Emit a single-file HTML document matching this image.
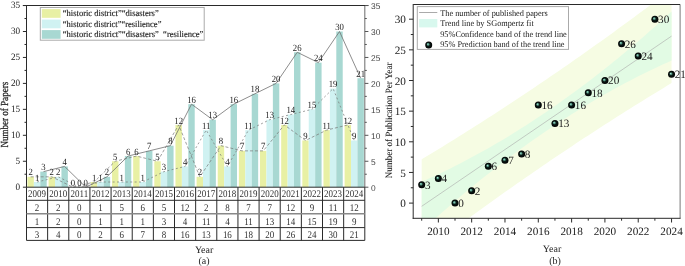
<!DOCTYPE html>
<html><head><meta charset="utf-8"><style>
html,body{margin:0;padding:0;background:#fff;width:685px;height:266px;overflow:hidden;position:relative}
svg text{font-family:"Liberation Serif",serif;text-rendering:geometricPrecision}
svg{transform:translateZ(0)}
</style></head><body>
<svg width="685" height="266" viewBox="0 0 685 266" style="position:absolute;left:0;top:0">
<rect x="27.45" y="176.82" width="6.42" height="10.38" fill="#e8f0a4"/>
<rect x="33.87" y="182.01" width="6.42" height="5.19" fill="#d0f2f2"/>
<rect x="40.29" y="171.63" width="6.42" height="15.57" fill="#a8d8d2"/>
<rect x="48.59" y="176.82" width="6.42" height="10.38" fill="#e8f0a4"/>
<rect x="55.01" y="176.82" width="6.42" height="10.38" fill="#d0f2f2"/>
<rect x="61.43" y="166.44" width="6.42" height="20.76" fill="#a8d8d2"/>
<rect x="90.88" y="182.01" width="6.42" height="5.19" fill="#e8f0a4"/>
<rect x="97.30" y="182.01" width="6.42" height="5.19" fill="#d0f2f2"/>
<rect x="103.72" y="176.82" width="6.42" height="10.38" fill="#a8d8d2"/>
<rect x="112.03" y="161.25" width="6.42" height="25.95" fill="#e8f0a4"/>
<rect x="118.45" y="182.01" width="6.42" height="5.19" fill="#d0f2f2"/>
<rect x="124.87" y="156.06" width="6.42" height="31.14" fill="#a8d8d2"/>
<rect x="133.17" y="156.06" width="6.42" height="31.14" fill="#e8f0a4"/>
<rect x="139.59" y="182.01" width="6.42" height="5.19" fill="#d0f2f2"/>
<rect x="146.01" y="150.87" width="6.42" height="36.33" fill="#a8d8d2"/>
<rect x="154.31" y="161.25" width="6.42" height="25.95" fill="#e8f0a4"/>
<rect x="160.73" y="171.63" width="6.42" height="15.57" fill="#d0f2f2"/>
<rect x="167.15" y="145.68" width="6.42" height="41.52" fill="#a8d8d2"/>
<rect x="175.46" y="124.92" width="6.42" height="62.28" fill="#e8f0a4"/>
<rect x="181.88" y="166.44" width="6.42" height="20.76" fill="#d0f2f2"/>
<rect x="188.30" y="104.16" width="6.42" height="83.04" fill="#a8d8d2"/>
<rect x="196.60" y="176.82" width="6.42" height="10.38" fill="#e8f0a4"/>
<rect x="203.02" y="130.11" width="6.42" height="57.09" fill="#d0f2f2"/>
<rect x="209.44" y="119.73" width="6.42" height="67.47" fill="#a8d8d2"/>
<rect x="217.74" y="145.68" width="6.42" height="41.52" fill="#e8f0a4"/>
<rect x="224.16" y="166.44" width="6.42" height="20.76" fill="#d0f2f2"/>
<rect x="230.58" y="104.16" width="6.42" height="83.04" fill="#a8d8d2"/>
<rect x="238.89" y="150.87" width="6.42" height="36.33" fill="#e8f0a4"/>
<rect x="245.31" y="130.11" width="6.42" height="57.09" fill="#d0f2f2"/>
<rect x="251.73" y="93.78" width="6.42" height="93.42" fill="#a8d8d2"/>
<rect x="260.03" y="150.87" width="6.42" height="36.33" fill="#e8f0a4"/>
<rect x="266.45" y="119.73" width="6.42" height="67.47" fill="#d0f2f2"/>
<rect x="272.87" y="83.40" width="6.42" height="103.80" fill="#a8d8d2"/>
<rect x="281.18" y="124.92" width="6.42" height="62.28" fill="#e8f0a4"/>
<rect x="287.60" y="114.54" width="6.42" height="72.66" fill="#d0f2f2"/>
<rect x="294.01" y="52.26" width="6.42" height="134.94" fill="#a8d8d2"/>
<rect x="302.32" y="140.49" width="6.42" height="46.71" fill="#e8f0a4"/>
<rect x="308.74" y="109.35" width="6.42" height="77.85" fill="#d0f2f2"/>
<rect x="315.16" y="62.64" width="6.42" height="124.56" fill="#a8d8d2"/>
<rect x="323.46" y="130.11" width="6.42" height="57.09" fill="#e8f0a4"/>
<rect x="329.88" y="88.59" width="6.42" height="98.61" fill="#d0f2f2"/>
<rect x="336.30" y="31.50" width="6.42" height="155.70" fill="#a8d8d2"/>
<rect x="344.61" y="124.92" width="6.42" height="62.28" fill="#e8f0a4"/>
<rect x="351.03" y="140.49" width="6.42" height="46.71" fill="#d0f2f2"/>
<rect x="357.45" y="78.21" width="6.42" height="108.99" fill="#a8d8d2"/>
<polyline points="43.50,171.63 64.64,166.44 85.79,187.20 106.93,176.82 128.08,156.06 149.22,150.87 170.36,145.68 191.51,104.16 212.65,119.73 233.79,104.16 254.94,93.78 276.08,83.40 297.23,52.26 318.37,62.64 339.51,31.50 360.66,78.21" fill="none" stroke="#707070" stroke-width="0.8"/>
<polyline points="30.66,176.82 51.80,176.82 72.95,187.20 94.09,182.01 115.23,161.25 136.38,156.06 157.52,161.25 178.67,124.92 199.81,176.82 220.95,145.68 242.10,150.87 263.24,150.87 284.38,124.92 305.53,140.49 326.67,130.11 347.82,124.92" fill="none" stroke="#777" stroke-width="0.7" stroke-dasharray="3,2"/>
<polyline points="37.08,182.01 58.22,176.82 79.37,187.20 100.51,182.01 121.66,182.01 142.80,182.01 163.94,171.63 185.09,166.44 206.23,130.11 227.37,166.44 248.52,130.11 269.66,119.73 290.81,114.54 311.95,109.35 333.09,88.59 354.24,140.49" fill="none" stroke="#777" stroke-width="0.7" stroke-dasharray="2,2.4"/>
<text transform="translate(30.66,175.42) scale(0.92,1)" font-size="9.5" text-anchor="middle" fill="#222">2</text>
<text transform="translate(37.08,180.61) scale(0.92,1)" font-size="9.5" text-anchor="middle" fill="#222">1</text>
<text transform="translate(43.50,170.23) scale(0.92,1)" font-size="9.5" text-anchor="middle" fill="#222">3</text>
<text transform="translate(51.80,175.42) scale(0.92,1)" font-size="9.5" text-anchor="middle" fill="#222">2</text>
<text transform="translate(58.22,175.42) scale(0.92,1)" font-size="9.5" text-anchor="middle" fill="#222">2</text>
<text transform="translate(64.64,165.04) scale(0.92,1)" font-size="9.5" text-anchor="middle" fill="#222">4</text>
<text transform="translate(72.95,185.80) scale(0.92,1)" font-size="9.5" text-anchor="middle" fill="#222">0</text>
<text transform="translate(79.37,185.80) scale(0.92,1)" font-size="9.5" text-anchor="middle" fill="#222">0</text>
<text transform="translate(85.79,185.80) scale(0.92,1)" font-size="9.5" text-anchor="middle" fill="#222">0</text>
<text transform="translate(94.09,180.61) scale(0.92,1)" font-size="9.5" text-anchor="middle" fill="#222">1</text>
<text transform="translate(100.51,180.61) scale(0.92,1)" font-size="9.5" text-anchor="middle" fill="#222">1</text>
<text transform="translate(106.93,175.42) scale(0.92,1)" font-size="9.5" text-anchor="middle" fill="#222">2</text>
<text transform="translate(115.23,159.85) scale(0.92,1)" font-size="9.5" text-anchor="middle" fill="#222">5</text>
<text transform="translate(121.66,180.61) scale(0.92,1)" font-size="9.5" text-anchor="middle" fill="#222">1</text>
<text transform="translate(128.08,154.66) scale(0.92,1)" font-size="9.5" text-anchor="middle" fill="#222">6</text>
<text transform="translate(136.38,154.66) scale(0.92,1)" font-size="9.5" text-anchor="middle" fill="#222">6</text>
<text transform="translate(142.80,180.61) scale(0.92,1)" font-size="9.5" text-anchor="middle" fill="#222">1</text>
<text transform="translate(149.22,149.47) scale(0.92,1)" font-size="9.5" text-anchor="middle" fill="#222">7</text>
<text transform="translate(157.52,159.85) scale(0.92,1)" font-size="9.5" text-anchor="middle" fill="#222">5</text>
<text transform="translate(163.94,170.23) scale(0.92,1)" font-size="9.5" text-anchor="middle" fill="#222">3</text>
<text transform="translate(170.36,144.28) scale(0.92,1)" font-size="9.5" text-anchor="middle" fill="#222">8</text>
<text transform="translate(178.67,123.52) scale(0.92,1)" font-size="9.5" text-anchor="middle" fill="#222">12</text>
<text transform="translate(185.09,165.04) scale(0.92,1)" font-size="9.5" text-anchor="middle" fill="#222">4</text>
<text transform="translate(191.51,102.76) scale(0.92,1)" font-size="9.5" text-anchor="middle" fill="#222">16</text>
<text transform="translate(199.81,175.42) scale(0.92,1)" font-size="9.5" text-anchor="middle" fill="#222">2</text>
<text transform="translate(206.23,128.71) scale(0.92,1)" font-size="9.5" text-anchor="middle" fill="#222">11</text>
<text transform="translate(212.65,118.33) scale(0.92,1)" font-size="9.5" text-anchor="middle" fill="#222">13</text>
<text transform="translate(220.95,144.28) scale(0.92,1)" font-size="9.5" text-anchor="middle" fill="#222">8</text>
<text transform="translate(227.37,165.04) scale(0.92,1)" font-size="9.5" text-anchor="middle" fill="#222">4</text>
<text transform="translate(233.79,102.76) scale(0.92,1)" font-size="9.5" text-anchor="middle" fill="#222">16</text>
<text transform="translate(242.10,149.47) scale(0.92,1)" font-size="9.5" text-anchor="middle" fill="#222">7</text>
<text transform="translate(248.52,128.71) scale(0.92,1)" font-size="9.5" text-anchor="middle" fill="#222">11</text>
<text transform="translate(254.94,92.38) scale(0.92,1)" font-size="9.5" text-anchor="middle" fill="#222">18</text>
<text transform="translate(263.24,149.47) scale(0.92,1)" font-size="9.5" text-anchor="middle" fill="#222">7</text>
<text transform="translate(269.66,118.33) scale(0.92,1)" font-size="9.5" text-anchor="middle" fill="#222">13</text>
<text transform="translate(276.08,82.00) scale(0.92,1)" font-size="9.5" text-anchor="middle" fill="#222">20</text>
<text transform="translate(284.38,123.52) scale(0.92,1)" font-size="9.5" text-anchor="middle" fill="#222">12</text>
<text transform="translate(290.81,113.14) scale(0.92,1)" font-size="9.5" text-anchor="middle" fill="#222">14</text>
<text transform="translate(297.23,50.86) scale(0.92,1)" font-size="9.5" text-anchor="middle" fill="#222">26</text>
<text transform="translate(305.53,139.09) scale(0.92,1)" font-size="9.5" text-anchor="middle" fill="#222">9</text>
<text transform="translate(311.95,107.95) scale(0.92,1)" font-size="9.5" text-anchor="middle" fill="#222">15</text>
<text transform="translate(318.37,61.24) scale(0.92,1)" font-size="9.5" text-anchor="middle" fill="#222">24</text>
<text transform="translate(326.67,128.71) scale(0.92,1)" font-size="9.5" text-anchor="middle" fill="#222">11</text>
<text transform="translate(333.09,87.19) scale(0.92,1)" font-size="9.5" text-anchor="middle" fill="#222">19</text>
<text transform="translate(339.51,30.10) scale(0.92,1)" font-size="9.5" text-anchor="middle" fill="#222">30</text>
<text transform="translate(347.82,123.52) scale(0.92,1)" font-size="9.5" text-anchor="middle" fill="#222">12</text>
<text transform="translate(354.24,139.09) scale(0.92,1)" font-size="9.5" text-anchor="middle" fill="#222">9</text>
<text transform="translate(360.66,76.81) scale(0.92,1)" font-size="9.5" text-anchor="middle" fill="#222">21</text>
<path d="M22.9,5.5 H368.40000000000003 M26.5,5.0 V187.2" stroke="#2a2a2a" stroke-width="1" fill="none"/>
<path d="M364.8,6.0 V187.2" stroke="#777" stroke-width="1.1" fill="none"/>
<path d="M22.9,187.20H26.5 M22.9,161.25H26.5 M22.9,135.30H26.5 M22.9,109.35H26.5 M22.9,83.40H26.5 M22.9,57.45H26.5 M22.9,31.50H26.5 M22.9,5.55H26.5 M24.5,174.22H26.5 M24.5,148.27H26.5 M24.5,122.32H26.5 M24.5,96.37H26.5 M24.5,70.42H26.5 M24.5,44.47H26.5 M24.5,18.52H26.5" stroke="#2a2a2a" stroke-width="1"/>
<path d="M364.8,187.20H368.40000000000003 M364.8,161.25H368.40000000000003 M364.8,135.30H368.40000000000003 M364.8,109.35H368.40000000000003 M364.8,83.40H368.40000000000003 M364.8,57.45H368.40000000000003 M364.8,31.50H368.40000000000003 M364.8,5.55H368.40000000000003 M364.8,174.22H366.8 M364.8,148.27H366.8 M364.8,122.32H366.8 M364.8,96.37H366.8 M364.8,70.42H366.8 M364.8,44.47H366.8 M364.8,18.52H366.8" stroke="#555" stroke-width="1"/>
<text transform="translate(20.2,189.50) scale(0.95,1)" font-size="9.7" text-anchor="end" fill="#222">0</text>
<text x="371.0" y="191.00" font-size="8.4" text-anchor="start" fill="#444" style="font-family:'Liberation Sans',sans-serif">0</text>
<text transform="translate(20.2,163.55) scale(0.95,1)" font-size="9.7" text-anchor="end" fill="#222">5</text>
<text x="371.0" y="165.05" font-size="8.4" text-anchor="start" fill="#444" style="font-family:'Liberation Sans',sans-serif">5</text>
<text transform="translate(20.2,137.60) scale(0.95,1)" font-size="9.7" text-anchor="end" fill="#222">10</text>
<text x="371.0" y="139.10" font-size="8.4" text-anchor="start" fill="#444" style="font-family:'Liberation Sans',sans-serif">10</text>
<text transform="translate(20.2,111.65) scale(0.95,1)" font-size="9.7" text-anchor="end" fill="#222">15</text>
<text x="371.0" y="113.15" font-size="8.4" text-anchor="start" fill="#444" style="font-family:'Liberation Sans',sans-serif">15</text>
<text transform="translate(20.2,85.70) scale(0.95,1)" font-size="9.7" text-anchor="end" fill="#222">20</text>
<text x="371.0" y="87.20" font-size="8.4" text-anchor="start" fill="#444" style="font-family:'Liberation Sans',sans-serif">20</text>
<text transform="translate(20.2,59.75) scale(0.95,1)" font-size="9.7" text-anchor="end" fill="#222">25</text>
<text x="371.0" y="61.25" font-size="8.4" text-anchor="start" fill="#444" style="font-family:'Liberation Sans',sans-serif">25</text>
<text transform="translate(20.2,33.80) scale(0.95,1)" font-size="9.7" text-anchor="end" fill="#222">30</text>
<text x="371.0" y="35.30" font-size="8.4" text-anchor="start" fill="#444" style="font-family:'Liberation Sans',sans-serif">30</text>
<text transform="translate(20.2,7.85) scale(0.95,1)" font-size="9.7" text-anchor="end" fill="#222">35</text>
<text x="371.0" y="9.35" font-size="8.4" text-anchor="start" fill="#444" style="font-family:'Liberation Sans',sans-serif">35</text>
<text transform="translate(7.8,114.7) rotate(-90)" font-size="10.8" text-anchor="middle" fill="#222" stroke="#222" stroke-width="0.25" textLength="65.8" lengthAdjust="spacingAndGlyphs">Number of Papers</text>
<path d="M26.5,187.2H364.8 M26.5,200.3H364.8 M26.5,227.6H364.8 M26.5,240.4H364.8 M26.50,187.2V240.4 M47.64,187.2V240.4 M68.79,187.2V240.4 M89.93,187.2V240.4 M111.08,187.2V240.4 M132.22,187.2V240.4 M153.36,187.2V240.4 M174.51,187.2V240.4 M195.65,187.2V240.4 M216.79,187.2V240.4 M237.94,187.2V240.4 M259.08,187.2V240.4 M280.23,187.2V240.4 M301.37,187.2V240.4 M322.51,187.2V240.4 M343.66,187.2V240.4 M364.80,187.2V240.4" stroke="#2a2a2a" stroke-width="1" fill="none"/>
<path d="M26.5,213.7H364.8" stroke="#888" stroke-width="1.6" fill="none"/>
<text transform="translate(37.07,197.40) scale(0.88,1)" font-size="10.2" text-anchor="middle" fill="#333">2009</text>
<text transform="translate(58.22,197.40) scale(0.88,1)" font-size="10.2" text-anchor="middle" fill="#333">2010</text>
<text transform="translate(79.36,197.40) scale(0.88,1)" font-size="10.2" text-anchor="middle" fill="#333">2011</text>
<text transform="translate(100.50,197.40) scale(0.88,1)" font-size="10.2" text-anchor="middle" fill="#333">2012</text>
<text transform="translate(121.65,197.40) scale(0.88,1)" font-size="10.2" text-anchor="middle" fill="#333">2013</text>
<text transform="translate(142.79,197.40) scale(0.88,1)" font-size="10.2" text-anchor="middle" fill="#333">2014</text>
<text transform="translate(163.93,197.40) scale(0.88,1)" font-size="10.2" text-anchor="middle" fill="#333">2015</text>
<text transform="translate(185.08,197.40) scale(0.88,1)" font-size="10.2" text-anchor="middle" fill="#333">2016</text>
<text transform="translate(206.22,197.40) scale(0.88,1)" font-size="10.2" text-anchor="middle" fill="#333">2017</text>
<text transform="translate(227.37,197.40) scale(0.88,1)" font-size="10.2" text-anchor="middle" fill="#333">2018</text>
<text transform="translate(248.51,197.40) scale(0.88,1)" font-size="10.2" text-anchor="middle" fill="#333">2019</text>
<text transform="translate(269.65,197.40) scale(0.88,1)" font-size="10.2" text-anchor="middle" fill="#333">2020</text>
<text transform="translate(290.80,197.40) scale(0.88,1)" font-size="10.2" text-anchor="middle" fill="#333">2021</text>
<text transform="translate(311.94,197.40) scale(0.88,1)" font-size="10.2" text-anchor="middle" fill="#333">2022</text>
<text transform="translate(333.08,197.40) scale(0.88,1)" font-size="10.2" text-anchor="middle" fill="#333">2023</text>
<text transform="translate(354.23,197.40) scale(0.88,1)" font-size="10.2" text-anchor="middle" fill="#333">2024</text>
<text transform="translate(37.07,210.80) scale(0.88,1)" font-size="10.2" text-anchor="middle" fill="#333">2</text>
<text transform="translate(58.22,210.80) scale(0.88,1)" font-size="10.2" text-anchor="middle" fill="#333">2</text>
<text transform="translate(79.36,210.80) scale(0.88,1)" font-size="10.2" text-anchor="middle" fill="#333">0</text>
<text transform="translate(100.50,210.80) scale(0.88,1)" font-size="10.2" text-anchor="middle" fill="#333">1</text>
<text transform="translate(121.65,210.80) scale(0.88,1)" font-size="10.2" text-anchor="middle" fill="#333">5</text>
<text transform="translate(142.79,210.80) scale(0.88,1)" font-size="10.2" text-anchor="middle" fill="#333">6</text>
<text transform="translate(163.93,210.80) scale(0.88,1)" font-size="10.2" text-anchor="middle" fill="#333">5</text>
<text transform="translate(185.08,210.80) scale(0.88,1)" font-size="10.2" text-anchor="middle" fill="#333">12</text>
<text transform="translate(206.22,210.80) scale(0.88,1)" font-size="10.2" text-anchor="middle" fill="#333">2</text>
<text transform="translate(227.37,210.80) scale(0.88,1)" font-size="10.2" text-anchor="middle" fill="#333">8</text>
<text transform="translate(248.51,210.80) scale(0.88,1)" font-size="10.2" text-anchor="middle" fill="#333">7</text>
<text transform="translate(269.65,210.80) scale(0.88,1)" font-size="10.2" text-anchor="middle" fill="#333">7</text>
<text transform="translate(290.80,210.80) scale(0.88,1)" font-size="10.2" text-anchor="middle" fill="#333">12</text>
<text transform="translate(311.94,210.80) scale(0.88,1)" font-size="10.2" text-anchor="middle" fill="#333">9</text>
<text transform="translate(333.08,210.80) scale(0.88,1)" font-size="10.2" text-anchor="middle" fill="#333">11</text>
<text transform="translate(354.23,210.80) scale(0.88,1)" font-size="10.2" text-anchor="middle" fill="#333">12</text>
<text transform="translate(37.07,224.70) scale(0.88,1)" font-size="10.2" text-anchor="middle" fill="#333">1</text>
<text transform="translate(58.22,224.70) scale(0.88,1)" font-size="10.2" text-anchor="middle" fill="#333">2</text>
<text transform="translate(79.36,224.70) scale(0.88,1)" font-size="10.2" text-anchor="middle" fill="#333">0</text>
<text transform="translate(100.50,224.70) scale(0.88,1)" font-size="10.2" text-anchor="middle" fill="#333">1</text>
<text transform="translate(121.65,224.70) scale(0.88,1)" font-size="10.2" text-anchor="middle" fill="#333">1</text>
<text transform="translate(142.79,224.70) scale(0.88,1)" font-size="10.2" text-anchor="middle" fill="#333">1</text>
<text transform="translate(163.93,224.70) scale(0.88,1)" font-size="10.2" text-anchor="middle" fill="#333">3</text>
<text transform="translate(185.08,224.70) scale(0.88,1)" font-size="10.2" text-anchor="middle" fill="#333">4</text>
<text transform="translate(206.22,224.70) scale(0.88,1)" font-size="10.2" text-anchor="middle" fill="#333">11</text>
<text transform="translate(227.37,224.70) scale(0.88,1)" font-size="10.2" text-anchor="middle" fill="#333">4</text>
<text transform="translate(248.51,224.70) scale(0.88,1)" font-size="10.2" text-anchor="middle" fill="#333">11</text>
<text transform="translate(269.65,224.70) scale(0.88,1)" font-size="10.2" text-anchor="middle" fill="#333">13</text>
<text transform="translate(290.80,224.70) scale(0.88,1)" font-size="10.2" text-anchor="middle" fill="#333">14</text>
<text transform="translate(311.94,224.70) scale(0.88,1)" font-size="10.2" text-anchor="middle" fill="#333">15</text>
<text transform="translate(333.08,224.70) scale(0.88,1)" font-size="10.2" text-anchor="middle" fill="#333">19</text>
<text transform="translate(354.23,224.70) scale(0.88,1)" font-size="10.2" text-anchor="middle" fill="#333">9</text>
<text transform="translate(37.07,237.50) scale(0.88,1)" font-size="10.2" text-anchor="middle" fill="#333">3</text>
<text transform="translate(58.22,237.50) scale(0.88,1)" font-size="10.2" text-anchor="middle" fill="#333">4</text>
<text transform="translate(79.36,237.50) scale(0.88,1)" font-size="10.2" text-anchor="middle" fill="#333">0</text>
<text transform="translate(100.50,237.50) scale(0.88,1)" font-size="10.2" text-anchor="middle" fill="#333">2</text>
<text transform="translate(121.65,237.50) scale(0.88,1)" font-size="10.2" text-anchor="middle" fill="#333">6</text>
<text transform="translate(142.79,237.50) scale(0.88,1)" font-size="10.2" text-anchor="middle" fill="#333">7</text>
<text transform="translate(163.93,237.50) scale(0.88,1)" font-size="10.2" text-anchor="middle" fill="#333">8</text>
<text transform="translate(185.08,237.50) scale(0.88,1)" font-size="10.2" text-anchor="middle" fill="#333">16</text>
<text transform="translate(206.22,237.50) scale(0.88,1)" font-size="10.2" text-anchor="middle" fill="#333">13</text>
<text transform="translate(227.37,237.50) scale(0.88,1)" font-size="10.2" text-anchor="middle" fill="#333">16</text>
<text transform="translate(248.51,237.50) scale(0.88,1)" font-size="10.2" text-anchor="middle" fill="#333">18</text>
<text transform="translate(269.65,237.50) scale(0.88,1)" font-size="10.2" text-anchor="middle" fill="#333">20</text>
<text transform="translate(290.80,237.50) scale(0.88,1)" font-size="10.2" text-anchor="middle" fill="#333">26</text>
<text transform="translate(311.94,237.50) scale(0.88,1)" font-size="10.2" text-anchor="middle" fill="#333">24</text>
<text transform="translate(333.08,237.50) scale(0.88,1)" font-size="10.2" text-anchor="middle" fill="#333">30</text>
<text transform="translate(354.23,237.50) scale(0.88,1)" font-size="10.2" text-anchor="middle" fill="#333">21</text>
<text x="204.1" y="253.2" font-size="10.0" text-anchor="middle" fill="#222">Year</text>
<text x="204.1" y="263.6" font-size="10.0" text-anchor="middle" fill="#222">(a)</text>
<rect x="40.3" y="7.5" width="163.89999999999998" height="32.7" fill="#fff" stroke="#aaa" stroke-width="1"/>
<rect x="41.8" y="9.1" width="18.800000000000004" height="8.700000000000001" fill="#e8f0a4"/>
<text x="62.8" y="16.3" font-size="9.0" fill="#222" stroke="#222" stroke-width="0.15" xml:space="preserve" textLength="95.9" lengthAdjust="spacingAndGlyphs">“historic district”“disasters”</text>
<rect x="41.8" y="19.6" width="18.800000000000004" height="8.7" fill="#d0f2f2"/>
<text x="62.8" y="26.8" font-size="9.0" fill="#222" stroke="#222" stroke-width="0.15" xml:space="preserve" textLength="98.6" lengthAdjust="spacingAndGlyphs">“historic district”“resilience”</text>
<rect x="41.8" y="30.1" width="18.800000000000004" height="8.699999999999996" fill="#a8d8d2"/>
<text x="62.8" y="37.3" font-size="9.0" fill="#222" stroke="#222" stroke-width="0.15" xml:space="preserve" textLength="140.6" lengthAdjust="spacingAndGlyphs">“historic district”“disasters”  “resilience”</text>
<defs><clipPath id="clipb"><rect x="413.2" y="4.5" width="266.90000000000003" height="213.8"/></clipPath>
<radialGradient id="ball" cx="0.5" cy="0.5" r="0.5" fx="0.36" fy="0.36"><stop offset="0" stop-color="#b8f0dc"/><stop offset="0.22" stop-color="#5fa592"/><stop offset="0.5" stop-color="#0a1a16"/><stop offset="1" stop-color="#000"/></radialGradient></defs>
<polygon points="421.69,159.30 425.86,156.79 430.02,154.27 434.19,151.74 438.35,149.20 442.51,146.64 446.68,144.08 450.84,141.50 455.01,138.92 459.17,136.32 463.34,133.71 467.50,131.09 471.66,128.46 475.83,125.82 479.99,123.16 484.16,120.50 488.32,117.82 492.49,115.14 496.65,112.44 500.81,109.73 504.98,107.01 509.14,104.28 513.31,101.54 517.47,98.78 521.63,96.02 525.80,93.24 529.96,90.46 534.13,87.66 538.29,84.85 542.46,82.03 546.62,79.20 550.78,76.36 554.95,73.50 559.11,70.64 563.28,67.76 567.44,64.88 571.61,61.98 575.77,59.07 579.93,56.15 584.10,53.22 588.26,50.28 592.43,47.32 596.59,44.36 600.76,41.38 604.92,38.40 609.08,35.40 613.25,32.39 617.41,29.37 621.58,26.34 625.74,23.30 629.91,20.24 634.07,17.18 638.23,14.10 642.40,11.02 646.56,7.92 650.73,4.81 654.89,1.69 659.06,-1.44 663.22,-4.58 667.38,-7.74 671.55,-10.90 671.55,83.10 667.38,85.61 663.22,88.13 659.06,90.66 654.89,93.20 650.73,95.76 646.56,98.32 642.40,100.90 638.23,103.48 634.07,106.08 629.91,108.69 625.74,111.31 621.58,113.94 617.41,116.58 613.25,119.24 609.08,121.90 604.92,124.58 600.76,127.26 596.59,129.96 592.43,132.67 588.26,135.39 584.10,138.12 579.93,140.86 575.77,143.62 571.61,146.38 567.44,149.16 563.28,151.94 559.11,154.74 554.95,157.55 550.78,160.37 546.62,163.20 542.46,166.04 538.29,168.90 534.13,171.76 529.96,174.64 525.80,177.52 521.63,180.42 517.47,183.33 513.31,186.25 509.14,189.18 504.98,192.12 500.81,195.08 496.65,198.04 492.49,201.02 488.32,204.00 484.16,207.00 479.99,210.01 475.83,213.03 471.66,216.06 467.50,219.10 463.34,222.16 459.17,225.22 455.01,228.30 450.84,231.38 446.68,234.48 442.51,237.59 438.35,240.71 434.19,243.84 430.02,246.98 425.86,250.14 421.69,253.30" fill="#f6fce3" clip-path="url(#clipb)"/>
<polygon points="421.69,181.80 425.86,179.95 430.02,178.06 434.19,176.14 438.35,174.19 442.51,172.20 446.68,170.18 450.84,168.13 455.01,166.04 459.17,163.92 463.34,161.77 467.50,159.58 471.66,157.36 475.83,155.11 479.99,152.82 484.16,150.50 488.32,148.15 492.49,145.76 496.65,143.34 500.81,140.89 504.98,138.40 509.14,135.88 513.31,133.33 517.47,130.74 521.63,128.12 525.80,125.47 529.96,122.78 534.13,120.06 538.29,117.31 542.46,114.52 546.62,111.70 550.78,108.85 554.95,105.96 559.11,103.04 563.28,100.09 567.44,97.10 571.61,94.08 575.77,91.03 579.93,87.94 584.10,84.82 588.26,81.67 592.43,78.48 596.59,75.26 600.76,72.01 604.92,68.72 609.08,65.40 613.25,62.05 617.41,58.66 621.58,55.24 625.74,51.79 629.91,48.30 634.07,44.78 638.23,41.23 642.40,37.64 646.56,34.02 650.73,30.37 654.89,26.68 659.06,22.96 663.22,19.21 667.38,15.42 671.55,11.60 671.55,60.60 667.38,62.45 663.22,64.34 659.06,66.26 654.89,68.21 650.73,70.20 646.56,72.22 642.40,74.27 638.23,76.36 634.07,78.48 629.91,80.63 625.74,82.82 621.58,85.04 617.41,87.29 613.25,89.58 609.08,91.90 604.92,94.25 600.76,96.64 596.59,99.06 592.43,101.51 588.26,104.00 584.10,106.52 579.93,109.07 575.77,111.66 571.61,114.28 567.44,116.93 563.28,119.62 559.11,122.34 554.95,125.09 550.78,127.88 546.62,130.70 542.46,133.55 538.29,136.44 534.13,139.36 529.96,142.31 525.80,145.30 521.63,148.32 517.47,151.37 513.31,154.46 509.14,157.58 504.98,160.73 500.81,163.92 496.65,167.14 492.49,170.39 488.32,173.68 484.16,177.00 479.99,180.35 475.83,183.74 471.66,187.16 467.50,190.61 463.34,194.10 459.17,197.62 455.01,201.17 450.84,204.76 446.68,208.38 442.51,212.03 438.35,215.72 434.19,219.44 430.02,223.19 425.86,226.98 421.69,230.80" fill="#e2fbe4" clip-path="url(#clipb)"/>
<line x1="421.69" y1="206.3" x2="671.55" y2="36.1" stroke="#aaa" stroke-width="0.6"/>
<path d="M680.1,4.5 V218.3" stroke="#777" stroke-width="1" fill="none"/>
<path d="M413.2,4.5 H680.1 M413.2,4.0 V218.8 M412.7,218.3 H680.6" stroke="#2a2a2a" stroke-width="1" fill="none"/>
<path d="M409.0,203.10H413.2 M409.0,172.45H413.2 M409.0,141.80H413.2 M409.0,111.15H413.2 M409.0,80.50H413.2 M409.0,49.85H413.2 M409.0,19.20H413.2 M410.8,187.78H413.2 M410.8,157.12H413.2 M410.8,126.47H413.2 M410.8,95.83H413.2 M410.8,65.17H413.2 M410.8,34.53H413.2 M421.69,218.3V220.70000000000002 M438.35,218.3V222.5 M455.01,218.3V220.70000000000002 M471.66,218.3V222.5 M488.32,218.3V220.70000000000002 M504.98,218.3V222.5 M521.63,218.3V220.70000000000002 M538.29,218.3V222.5 M554.95,218.3V220.70000000000002 M571.61,218.3V222.5 M588.26,218.3V220.70000000000002 M604.92,218.3V222.5 M621.58,218.3V220.70000000000002 M638.23,218.3V222.5 M654.89,218.3V220.70000000000002 M671.55,218.3V222.5" stroke="#2a2a2a" stroke-width="1"/>
<text x="405.9" y="207.20" font-size="11.2" text-anchor="end" fill="#222">0</text>
<text x="405.9" y="176.55" font-size="11.2" text-anchor="end" fill="#222">5</text>
<text x="405.9" y="145.90" font-size="11.2" text-anchor="end" fill="#222">10</text>
<text x="405.9" y="115.25" font-size="11.2" text-anchor="end" fill="#222">15</text>
<text x="405.9" y="84.60" font-size="11.2" text-anchor="end" fill="#222">20</text>
<text x="405.9" y="53.95" font-size="11.2" text-anchor="end" fill="#222">25</text>
<text x="405.9" y="23.30" font-size="11.2" text-anchor="end" fill="#222">30</text>
<text x="438.35" y="234.8" font-size="11.2" text-anchor="middle" fill="#222">2010</text>
<text x="471.66" y="234.8" font-size="11.2" text-anchor="middle" fill="#222">2012</text>
<text x="504.98" y="234.8" font-size="11.2" text-anchor="middle" fill="#222">2014</text>
<text x="538.29" y="234.8" font-size="11.2" text-anchor="middle" fill="#222">2016</text>
<text x="571.61" y="234.8" font-size="11.2" text-anchor="middle" fill="#222">2018</text>
<text x="604.92" y="234.8" font-size="11.2" text-anchor="middle" fill="#222">2020</text>
<text x="638.23" y="234.8" font-size="11.2" text-anchor="middle" fill="#222">2022</text>
<text x="671.55" y="234.8" font-size="11.2" text-anchor="middle" fill="#222">2024</text>
<text transform="translate(391.6,120.45) rotate(-90)" font-size="9.6" text-anchor="middle" fill="#222" stroke="#222" stroke-width="0.08" textLength="115.7" lengthAdjust="spacingAndGlyphs">Number of Publication Per Year</text>
<text x="552" y="252" font-size="10.0" text-anchor="middle" fill="#222">Year</text>
<text x="555.1" y="263.9" font-size="10.0" text-anchor="middle" fill="#222">(b)</text>
<circle cx="421.69" cy="184.71" r="3.5" fill="url(#ball)"/>
<text x="424.89" y="188.61" font-size="11.2" fill="#222">3</text>
<circle cx="438.35" cy="178.58" r="3.5" fill="url(#ball)"/>
<text x="441.55" y="182.48" font-size="11.2" fill="#222">4</text>
<circle cx="455.01" cy="203.10" r="3.5" fill="url(#ball)"/>
<text x="458.21" y="207.00" font-size="11.2" fill="#222">0</text>
<circle cx="471.66" cy="190.84" r="3.5" fill="url(#ball)"/>
<text x="474.86" y="194.74" font-size="11.2" fill="#222">2</text>
<circle cx="488.32" cy="166.32" r="3.5" fill="url(#ball)"/>
<text x="491.52" y="170.22" font-size="11.2" fill="#222">6</text>
<circle cx="504.98" cy="160.19" r="3.5" fill="url(#ball)"/>
<text x="508.18" y="164.09" font-size="11.2" fill="#222">7</text>
<circle cx="521.63" cy="154.06" r="3.5" fill="url(#ball)"/>
<text x="524.84" y="157.96" font-size="11.2" fill="#222">8</text>
<circle cx="538.29" cy="105.02" r="3.5" fill="url(#ball)"/>
<text x="541.49" y="108.92" font-size="11.2" fill="#222">16</text>
<circle cx="554.95" cy="123.41" r="3.5" fill="url(#ball)"/>
<text x="558.15" y="127.31" font-size="11.2" fill="#222">13</text>
<circle cx="571.61" cy="105.02" r="3.5" fill="url(#ball)"/>
<text x="574.81" y="108.92" font-size="11.2" fill="#222">16</text>
<circle cx="588.26" cy="92.76" r="3.5" fill="url(#ball)"/>
<text x="591.46" y="96.66" font-size="11.2" fill="#222">18</text>
<circle cx="604.92" cy="80.50" r="3.5" fill="url(#ball)"/>
<text x="608.12" y="84.40" font-size="11.2" fill="#222">20</text>
<circle cx="621.58" cy="43.72" r="3.5" fill="url(#ball)"/>
<text x="624.78" y="47.62" font-size="11.2" fill="#222">26</text>
<circle cx="638.23" cy="55.98" r="3.5" fill="url(#ball)"/>
<text x="641.43" y="59.88" font-size="11.2" fill="#222">24</text>
<circle cx="654.89" cy="19.20" r="3.5" fill="url(#ball)"/>
<text x="658.09" y="23.10" font-size="11.2" fill="#222">30</text>
<circle cx="671.55" cy="74.37" r="3.5" fill="url(#ball)"/>
<text x="674.75" y="78.27" font-size="11.2" fill="#222">21</text>
<rect x="417.3" y="6.6" width="151.2" height="42.8" fill="#fff" stroke="#aaa" stroke-width="1"/>
<line x1="419.1" y1="12.5" x2="437.3" y2="12.5" stroke="#aaa" stroke-width="1"/>
<rect x="419.1" y="19" width="18.19999999999999" height="8.399999999999999" fill="#d8f8ee"/>
<circle cx="428.7" cy="45.0" r="3.5" fill="url(#ball)"/>
<text x="440.2" y="15.8" font-size="8.8" fill="#222" textLength="107.5" lengthAdjust="spacingAndGlyphs">The number of published papers</text>
<text x="440.2" y="25.9" font-size="8.8" fill="#222" textLength="93.5" lengthAdjust="spacingAndGlyphs">Trend line by SGompertz fit</text>
<text x="440.2" y="36.9" font-size="8.8" fill="#222" textLength="126.6" lengthAdjust="spacingAndGlyphs">95%Confidence band of the trend line</text>
<text x="440.2" y="46.6" font-size="8.8" fill="#222" textLength="124.3" lengthAdjust="spacingAndGlyphs">95% Prediction band of the trend line</text>
</svg>
</body></html>
